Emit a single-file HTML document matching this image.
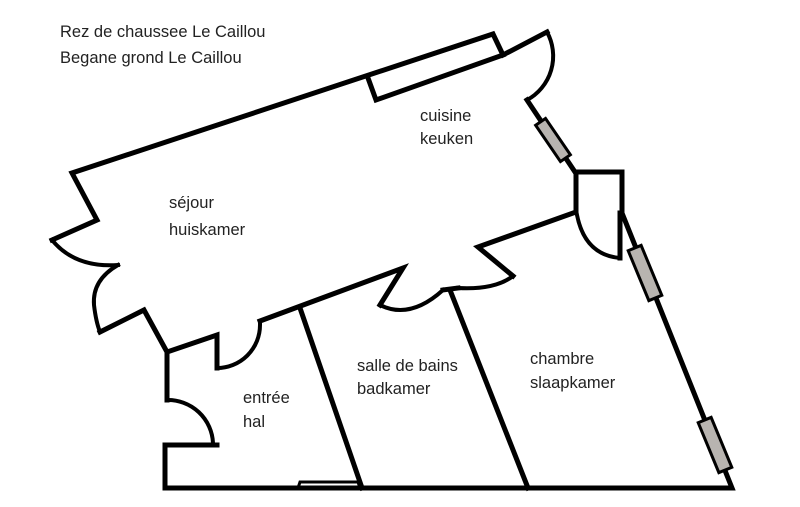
<!DOCTYPE html>
<html><head><meta charset="utf-8"><style>
html,body{margin:0;padding:0;background:#fff;}
svg{display:block;}
text{font-family:"Liberation Sans",sans-serif;font-size:16.5px;fill:#222;}
</style></head><body>
<svg width="800" height="507" viewBox="0 0 800 507">
<g fill="none" stroke="#000" stroke-width="5" stroke-linejoin="miter" stroke-linecap="square">
<polyline points="52,240 97,220 72,173 493,34 503,55 376,100 368,78"/>
<polyline points="503,55 547,32"/>
<path d="M547,32 A50,50 0 0 1 527,100" stroke-width="4"/>
<polyline points="527,100 575,172 622,172 622,213 732,488 165,488 165,445 217,445"/>
<path d="M167,400 A45,45 0 0 1 213,443" stroke-width="4"/>
<polyline points="167,400 167,352 217,335 217,368"/>
<path d="M217,368 A43,43 0 0 0 260,325" stroke-width="4"/>
<polyline points="260,321 403,268 380,305"/>
<path d="M380,305 Q410,320 443,290" stroke-width="4"/>
<polyline points="443,290 458,288"/>
<path d="M458,288 Q495,290 513,276" stroke-width="4"/>
<polyline points="513,276 478,247 576,212 576,175"/>
<path d="M577,215 Q585,255 620,258" stroke-width="4"/>
<polyline points="620,258 620,213"/>
<path d="M52,240 Q75,268 118,265" stroke-width="4"/>
<path d="M118,265 Q92,280 94,305 Q96,322 100,332" stroke-width="4"/>
<polyline points="100,332 144,310 167,352"/>
<line x1="300" y1="308" x2="362" y2="488"/>
<line x1="450" y1="290" x2="528" y2="488"/>
<polyline points="298,488 300,482 358,482 360,488" stroke-width="3"/>
</g>
<g fill="#b8b4b0" stroke="#000" stroke-width="3">
<rect x="-22" y="-6" width="44" height="12" transform="translate(553,140) rotate(55.6)"/>
<rect x="-27" y="-7" width="54" height="14" transform="translate(645,273) rotate(67.5)"/>
<rect x="-27" y="-7" width="54" height="14" transform="translate(715,445) rotate(67.5)"/>
</g>
<text x="60" y="37">Rez de chaussee Le Caillou</text>
<text x="60" y="63">Begane grond Le Caillou</text>
<text x="169" y="208">séjour</text>
<text x="169" y="235">huiskamer</text>
<text x="420" y="121">cuisine</text>
<text x="420" y="144">keuken</text>
<text x="357" y="371">salle de bains</text>
<text x="357" y="394">badkamer</text>
<text x="530" y="364">chambre</text>
<text x="530" y="388">slaapkamer</text>
<text x="243" y="403">entrée</text>
<text x="243" y="427">hal</text>
</svg>
</body></html>
